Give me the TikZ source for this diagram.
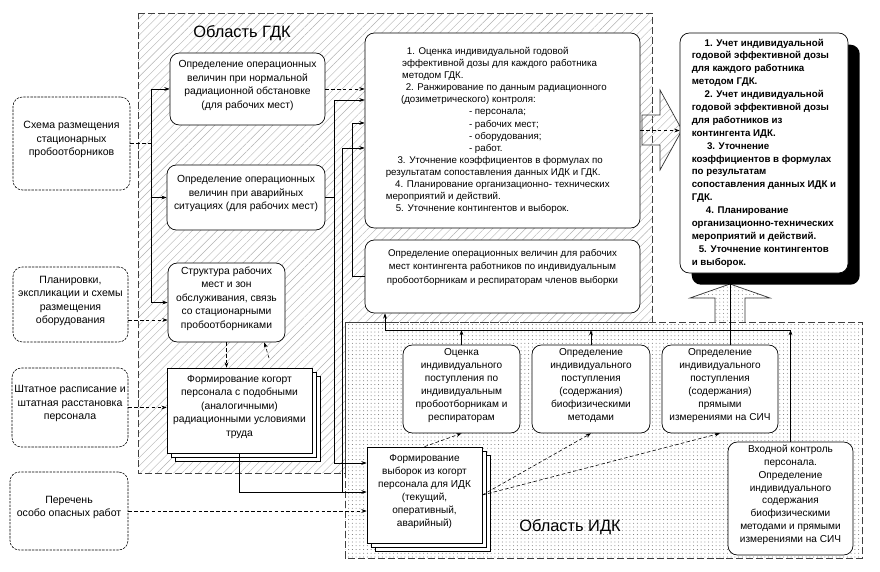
\documentclass[tikz,border=0pt]{standalone}
\usepackage{fontspec}
\setmainfont{Liberation Sans}
\usetikzlibrary{arrows.meta,patterns.meta,shadows,fit,calc}
\begin{document}
\begin{tikzpicture}[x=0.03cm,y=-0.03cm,
  lbox/.style={draw, dash pattern=on 2pt off 1pt, line width=0.5pt, rounded corners=8pt, fill=white, inner sep=0pt, align=center, font=\fontsize{9}{11.5}\selectfont},
  gbox/.style={draw, line width=0.6pt, rounded corners=8pt, fill=white, inner sep=0pt, align=center, font=\fontsize{8.8}{11.5}\selectfont},
  plainbox/.style={draw, line width=0.6pt, rounded corners=8pt, fill=white, inner sep=0pt},
  ltext/.style={align=left, inner sep=0pt},
  ibox/.style={draw, line width=0.6pt, rounded corners=8pt, fill=white, inner sep=0pt, align=center, font=\fontsize{8.6}{11}\selectfont},
  stackbox/.style={draw, line width=0.6pt, fill=white, inner sep=0pt, align=center, font=\fontsize{8.6}{11}\selectfont, double copy shadow={shadow xshift=3.4pt, shadow yshift=-3.4pt}},
  conn/.style={-{Stealth[length=4.5pt,width=3.2pt]}, line width=0.5pt},
  plainln/.style={line width=0.5pt},
  gdkfill/.style={pattern={Lines[angle=45,distance=5pt,line width=0.35pt]}, pattern color=black!30},
  idkfill/.style={pattern={Dots[distance=3.2pt,radius=0.4pt]}, pattern color=black!60},
  region/.style={draw=black!75, dash pattern=on 6pt off 2.5pt, line width=0.6pt},
  blockarrow/.style={draw=black!80, line width=0.6pt},
  lbl/.style={font=\fontsize{14}{16}\selectfont, inner sep=1pt}
]
\useasboundingbox[fill=white] (0,0) rectangle (880,572);

% regions
\draw[region, gdkfill] (138,13) -- (652,13) -- (652,322) -- (345,322) -- (345,473) -- (138,473) -- cycle;
\draw[region, idkfill] (345,322) rectangle (862,558);

% block arrows
\draw[blockarrow, gdkfill] (642,115) -- (660,115) -- (660,90) -- (682,130) -- (660,170) -- (660,145) -- (642,145) -- cycle;
\draw[blockarrow, idkfill] (715,322) -- (715,298) -- (690,298) -- (730,284) -- (770,298) -- (745,298) -- (745,322);

% labels
\node[lbl] (lgdk) at (242,33) {Область ГДК};
\node[lbl] (lidk) at (570,527) {Область ИДК};

% left inputs
\node[lbox, fit={(13,97) (130,190)}] (s1) {Схема размещения\\стационарных\\пробоотборников};
\node[lbox, fit={(13,267) (128,342)}] (s2) {Планировки,\\экспликации и схемы\\размещения\\оборудования};
\node[lbox, fit={(12,368) (128,447)}] (s3) {Штатное расписание и\\штатная расстановка\\персонала};
\node[lbox, fit={(10,472) (128,550)}] (s4) {Перечень\\особо опасных работ};

% GDK boxes
\node[gbox, fit={(170,53) (325,125)}] (n1) {Определение операционных\\величин при нормальной\\радиационной обстановке\\(для рабочих мест)};
\node[gbox, fit={(167,165) (325,230)}] (n2) {Определение операционных\\величин при аварийных\\ситуациях (для рабочих мест)};
\node[gbox, fit={(168,263) (285,342)}] (n3) {Структура рабочих\\мест и зон\\обслуживания, связь\\со стационарными\\пробоотборниками};
\node[stackbox, font=\fontsize{8.8}{11.5}\selectfont, fit={(167,368) (312,453)}] (kog) {Формирование когорт\\персонала с подобными\\(аналогичными)\\радиационными условиями\\труда};

% middle
\node[plainbox, fit={(365,33) (640,228)}] (m1) {};
\node[ltext, font=\fontsize{8.3}{10.3}\selectfont] (m1t) at ([xshift=-4pt]m1.center) {\hspace*{18pt}1. Оценка индивидуальной годовой\\
\hspace*{14pt}эффективной дозы для каждого работника\\
\hspace*{14pt}методом ГДК.\\
\hspace*{17pt}2. Ранжирование по данным радиационного\\
\hspace*{13pt}(дозиметрического) контроля:\\
\hspace*{71pt}- персонала;\\
\hspace*{71pt}- рабочих мест;\\
\hspace*{71pt}- оборудования;\\
\hspace*{71pt}- работ.\\
\hspace*{10pt}3. Уточнение коэффициентов в формулах по\\
результатам сопоставления данных ИДК и ГДК.\\
\hspace*{8pt}4. Планирование организационно- технических\\
мероприятий и действий.\\
\hspace*{8.5pt}5. Уточнение контингентов и выборок.};
\node[gbox, font=\fontsize{8.3}{11.2}\selectfont, fit={(365,240) (640,313)}] (m2) {Определение операционных величин для рабочих\\мест контингента работников по индивидуальным\\пробоотборникам и респираторам членов выборки\\\mbox{}};

% right result box
\node[plainbox,
  drop shadow={shadow xshift=10pt, shadow yshift=-10pt, fill=black, opacity=1},
  fit={(680,33) (848,273)}] (rb) {};
\node[ltext, font=\fontsize{8.3}{11}\selectfont\bfseries] (rbt) at (rb.center) {\hspace*{11pt}1. Учет индивидуальной\\
годовой эффективной дозы\\
для каждого работника\\
методом ГДК.\\
\hspace*{11pt}2. Учет индивидуальной\\
годовой эффективной дозы\\
для работников из\\
контингента ИДК.\\
\hspace*{13pt}3. Уточнение\\
коэффициентов в формулах\\
по результатам\\
сопоставления данных ИДК и\\
ГДК.\\
\hspace*{12pt}4. Планирование\\
организационно-технических\\
мероприятий и действий.\\
\hspace*{6pt}5. Уточнение контингентов\\
и выборок.};

% IDK boxes
\node[ibox, fit={(403,345) (520,433)}] (ocen) {Оценка\\индивидуального\\поступления по\\индивидуальным\\пробоотборникам и\\респираторам};
\node[ibox, fit={(532,345) (650,433)}] (bio) {Определение\\индивидуального\\поступления\\(содержания)\\биофизическими\\методами};
\node[ibox, fit={(662,345) (778,433)}] (sich) {Определение\\индивидуального\\поступления\\(содержания)\\прямыми\\измерениями на СИЧ};
\node[ibox, fit={(728,442) (853,555)}] (vhod) {Входной контроль\\персонала.\\Определение\\индивидуального\\содержания\\биофизическими\\методами и прямыми\\измерениями на СИЧ};
\node[stackbox, fit={(367,447) (482,543)}] (vyb) {Формирование\\выборок из когорт\\персонала для ИДК\\(текущий,\\оперативный,\\аварийный)};

% helper coordinates
\coordinate (b1) at (151,0);
\coordinate (y320) at (0,320);
\coordinate (c2) at (334,100);
\coordinate (c2b) at (0,463);
\coordinate (c3) at (352,123);
\coordinate (c4) at (342,148);
\coordinate (c4b) at (0,492);
\coordinate (small) at (269,358);
\coordinate (bus) at (0,330);
\coordinate (bl) at (385,330);
\coordinate (sx) at (730,0);

% GDK inputs
\draw[plainln, densely dashed] (s1.east) -- (s1.east -| b1);
\draw[plainln] (b1 |- n1.west) -- (b1 |- n3.west);
\draw[conn] (b1 |- n1.west) -- (n1.west);
\draw[conn] (b1 |- n2.west) -- (n2.west);
\draw[conn] (b1 |- n3.west) -- (n3.west);
\draw[conn, densely dashed] (s2.east |- y320) -- (n3.west |- y320);
\draw[conn, densely dashed] (s3.east) -- (s3.east -| kog.west);
\draw[conn, densely dashed] (s4.east) -- (s4.east -| vyb.west);
\draw[conn, densely dashed] (n3.south) -- (n3.south |- kog.north);
\draw[conn, densely dashed] (small) -- ([xshift=-18pt]n3.south east);

% GDK to middle
\draw[conn, densely dashed] (n1.east) -- (n1.east -| m1.west);
\draw[plainln] (n2.east) -- (n2.east -| c2);
\draw[conn] (n2.east -| c2) -- (c2) -- (c2 -| m1.west);
\draw[conn] (n2.east -| c2) -- (c2 |- c2b) -- (c2b -| vyb.west);
\draw[conn] (m2.west) -- (m2.west -| c3) -- (c3) -- (c3 -| m1.west);
\draw[conn] (kog.south) -- (kog.south |- c4b) -- (c4b -| vyb.west);
\draw[conn] (c4 |- c4b) -- (c4) -- (c4 -| m1.west);
\draw[conn, densely dashed] (m1.east) -- (m1.east -| rb.west);

% IDK
\draw[conn, densely dashed] (vyb.north) -- (ocen.south);
\draw[conn, densely dashed] (vyb.east) -- (bio.south);
\draw[conn, densely dashed] (vyb.east) -- (sich.south);
\draw[conn] (ocen.north) -- (ocen.north |- bus);
\draw[conn] (bio.north) -- (bio.north |- bus);
\draw[conn] (vhod.north) -- (vhod.north |- bus);
\draw[plainln] (vhod.north |- bus) -- (bl);
\draw[conn] (bl) -- (bl |- m2.south);
\draw[conn] (sich.north -| sx) -- (sx |- rb.south);
\end{tikzpicture}
\end{document}
